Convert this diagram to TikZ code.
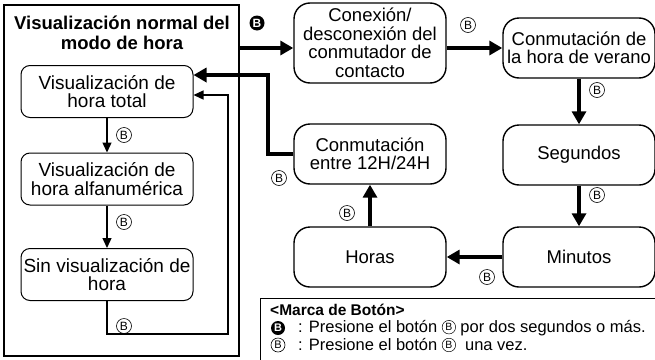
\documentclass[tikz,border=0pt]{standalone}
\usepackage{fontspec}
\setmainfont{Liberation Sans}
\usepackage{tikz}
\usetikzlibrary{arrows.meta}
\usetikzlibrary{positioning}

\newcommand{\fsbox}{\fontsize{18.5}{18.5}\selectfont}
\newcommand{\fsleft}{\fontsize{19}{18.5}\selectfont}
\newcommand{\fslegend}{\fontsize{16.5}{15}\selectfont}
\newcommand{\bmk}{\tikz[baseline=-0.6ex]\node[circle,draw,line width=.5pt,minimum size=13.5pt,inner sep=0pt,font=\fontsize{10.5}{10.5}\selectfont] (bm) {B};}

\tikzset{
  lbox/.style={draw,rounded corners=9pt,line width=1pt,minimum width=172pt,minimum height=52pt,align=center,inner sep=1pt,font=\fsleft},
  rbox/.style={draw,rounded corners=16pt,line width=1.4pt,minimum width=152pt,minimum height=60pt,align=center,inner sep=1pt,font=\fsbox},
  thinarrow/.style={-{Triangle[length=10pt,width=9pt]},line width=1.3pt},
  thickarrow/.style={-{Triangle[length=13pt,width=14pt]},line width=4pt},
  bmark/.style={circle,draw,line width=.6pt,minimum size=15pt,inner sep=0pt,font=\fontsize{12}{12}\selectfont},
  bfill/.style={circle,fill=black,text=white,minimum size=15pt,inner sep=0pt,font=\bfseries\fontsize{12}{12}\selectfont}
}

\begin{document}
\begin{tikzpicture}[x=1pt,y=-1pt]%
    \useasboundingbox (0,0) rectangle (655,359);
    % modo de hora (left frame)
    \node[draw,line width=2pt,minimum width=235pt,minimum height=351pt] (mode) at (121.5,180.5) {};
    \node[align=center,font=\bfseries\fontsize{18.5}{20.5}\selectfont] (title) at (122,33) {Visualización normal del\\modo de hora};
    \node[lbox] (n1) at (107,91.5) {Visualización de\\hora total};
    \node[lbox] (n2) at (107,179) {Visualización de\\hora alfanumérica};
    \node[lbox] (n3) at (107,274.5) {Sin visualización de\\hora};
    % right side
    \node[rbox,minimum height=80pt] (conex) at (370,43) {Conexión/\\desconexión del\\conmutador de\\contacto};
    \node[rbox] (verano) at (579,48) {Conmutación de\\la hora de verano};
    \node[rbox] (conm) at (370,154) {Conmutación\\entre 12H/24H};
    \node[rbox] (seg) at (579,155) {Segundos};
    \node[rbox] (horas) at (370,257) {Horas};
    \node[rbox] (minutos) at (579,257) {Minutos};
    % labels
    \node[bmark] (l12) at (124,135) {B};
    \node[bmark] (l23) at (124,222) {B};
    \node[bmark] (l31) at (124,326) {B};
    \node[bfill] (lmode) at (257,23) {B};
    \node[bmark] (lconm) at (279,178) {B};
    \node[bmark] (lconex) at (468,25) {B};
    \node[bmark] (lverano) at (597,90) {B};
    \node[bmark] (lseg) at (597,195) {B};
    \node[bmark] (lmin) at (487,277) {B};
    \node[bmark] (lhoras) at (347,213) {B};
    % connectors
    \draw[thinarrow] (n1) -- (n2);
    \draw[thinarrow] (n2) -- (n3);
    \draw[thinarrow] (n3.south) |- (228,334) |- ([yshift=-3.5pt]n1.east);
    \draw[thickarrow] (mode.east |- verano) -- (conex.west |- verano);
    \draw[thickarrow] (conex.east |- verano) -- (verano.west);
    \draw[thickarrow] (verano) -- (seg);
    \draw[thickarrow] (seg) -- (minutos);
    \draw[thickarrow] (minutos) -- (horas);
    \draw[thickarrow] (horas) -- (conm);
    \draw[thickarrow] (conm.west) -| (268,75) -- ([yshift=16.5pt]n1.east);
    % legend
    \node[draw,line width=1pt,minimum width=396pt,minimum height=66pt] (legend) at (458,331) {};
    \node[anchor=west,inner sep=0pt,font=\bfseries\fontsize{15.5}{15}\selectfont] (legtitle) at (270,310) {<Marca de Botón>};
    \node[bfill,minimum size=14pt,font=\bfseries\fontsize{11}{11}\selectfont] (legfill) at (278,328) {B};
    \node[bmark,minimum size=14pt,font=\fontsize{11}{11}\selectfont] (legmark) at (278,345) {B};
    \node[anchor=west,inner sep=0pt,font=\fslegend] (legtext1) at (298,328) {: Presione el botón \bmk{} por dos segundos o más.};
    \node[anchor=west,inner sep=0pt,font=\fslegend] (legtext2) at (298,345) {: Presione el botón \bmk{}\ \ una vez.};
\end{tikzpicture}
\end{document}
